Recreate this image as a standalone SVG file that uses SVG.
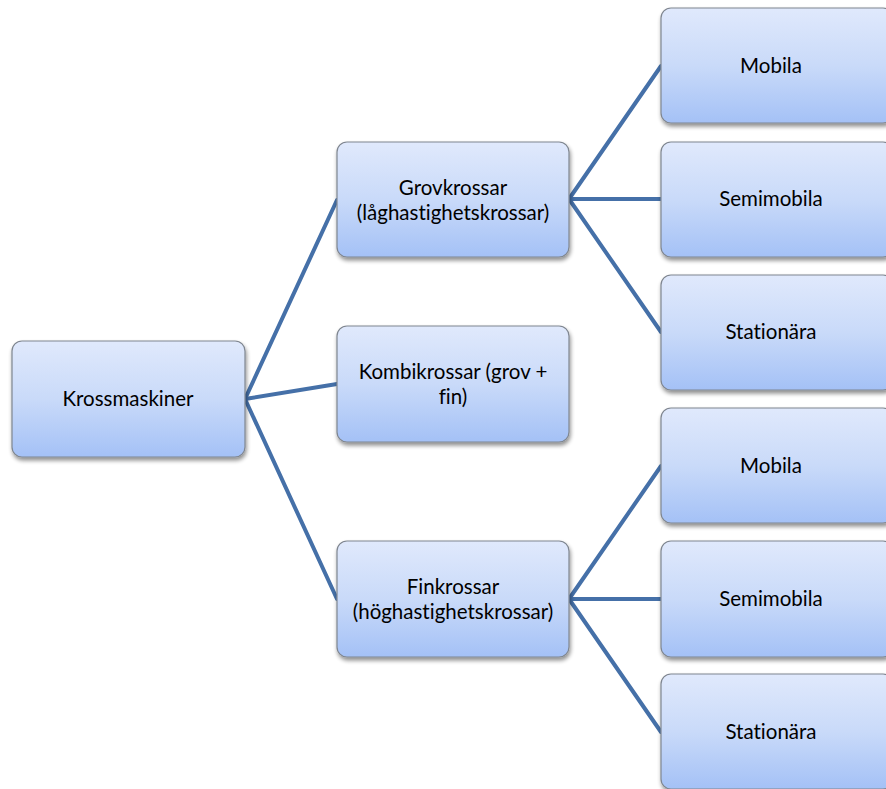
<svg xmlns="http://www.w3.org/2000/svg" width="886" height="789" viewBox="0 0 886 789">
<defs>
<linearGradient id="g" x1="0" y1="0" x2="0" y2="1">
<stop offset="0" stop-color="#e0e9fc"/>
<stop offset="0.5" stop-color="#c9daf9"/>
<stop offset="1" stop-color="#a4c1f6"/>
</linearGradient>
<filter id="sh" x="-10%" y="-10%" width="120%" height="130%">
<feGaussianBlur in="SourceAlpha" stdDeviation="2"/>
<feOffset dx="1" dy="3"/>
<feComponentTransfer><feFuncA type="linear" slope="0.45"/></feComponentTransfer>
<feMerge><feMergeNode/><feMergeNode in="SourceGraphic"/></feMerge>
</filter>
</defs>
<style>
.n{fill:url(#g);stroke:#7f8690;stroke-width:1.2;filter:url(#sh)}
.t{font-family:Lato,"Open Sans",sans-serif;font-size:20.5px;fill:#000;text-anchor:middle;font-variant-ligatures:none}
.c{stroke:#4570a8;stroke-width:4;fill:none;stroke-linecap:round}
</style>
<rect width="886" height="789" fill="#fff"/>
<g id="connectors">
<line class="c" x1="245" y1="399" x2="337" y2="200"/>
<line class="c" x1="245" y1="399" x2="337" y2="384"/>
<line class="c" x1="245" y1="399" x2="337" y2="599"/>
<line class="c" x1="569" y1="199" x2="661" y2="66"/>
<line class="c" x1="569" y1="199" x2="661" y2="199"/>
<line class="c" x1="569" y1="199" x2="661" y2="332"/>
<line class="c" x1="569" y1="599" x2="661" y2="466"/>
<line class="c" x1="569" y1="599" x2="661" y2="599"/>
<line class="c" x1="569" y1="599" x2="661" y2="732"/>
</g>
<g id="krossmaskiner"><rect class="n" x="12" y="341" width="233" height="116" rx="10"/><text class="t" x="128" y="406">Krossmaskiner</text></g>
<g id="grovkrossar"><rect class="n" x="337" y="142" width="232" height="115" rx="10"/><text class="t" x="453" y="195">Grovkrossar</text><text class="t" x="453" y="220">(låghastighetskrossar)</text></g>
<g id="kombikrossar"><rect class="n" x="337" y="326" width="232" height="116" rx="10"/><text class="t" x="453" y="379">Kombikrossar (grov +</text><text class="t" x="453" y="404">fin)</text></g>
<g id="finkrossar"><rect class="n" x="337" y="541" width="232" height="116" rx="10"/><text class="t" x="453" y="594">Finkrossar</text><text class="t" x="453" y="619">(höghastighetskrossar)</text></g>
<g id="mobila1"><rect class="n" x="661" y="8" width="232" height="115" rx="10"/><text class="t" x="771" y="73">Mobila</text></g>
<g id="semimobila1"><rect class="n" x="661" y="142" width="232" height="115" rx="10"/><text class="t" x="771" y="206">Semimobila</text></g>
<g id="stationara1"><rect class="n" x="661" y="275" width="232" height="115" rx="10"/><text class="t" x="771" y="339">Stationära</text></g>
<g id="mobila2"><rect class="n" x="661" y="408" width="232" height="115" rx="10"/><text class="t" x="771" y="473">Mobila</text></g>
<g id="semimobila2"><rect class="n" x="661" y="541" width="232" height="116" rx="10"/><text class="t" x="771" y="606">Semimobila</text></g>
<g id="stationara2"><rect class="n" x="661" y="674" width="232" height="115" rx="10"/><text class="t" x="771" y="739">Stationära</text></g>
</svg>
